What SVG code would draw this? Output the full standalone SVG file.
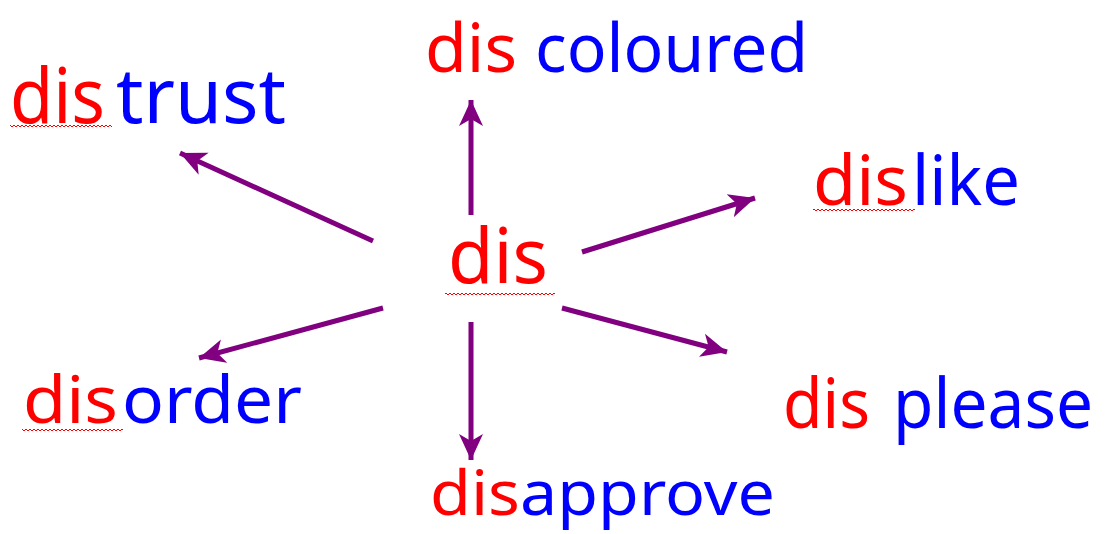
<svg xmlns="http://www.w3.org/2000/svg" width="1107" height="534" viewBox="0 0 1107 534">
  <style>
    .r { fill: #ff0000; font-family: "Noto Sans", "DejaVu Sans", sans-serif; }
    .b { fill: #0000ff; font-family: "Noto Sans", "DejaVu Sans", sans-serif; }
    .conn { stroke: #800080; stroke-width: 5; fill: none; marker-end: url(#ah); }
    .wave { fill: url(#wave); }
  </style>
  <defs>
    <marker id="ah" markerUnits="userSpaceOnUse" markerWidth="28" markerHeight="26" viewBox="0 0 28 26" refX="26" refY="13" orient="auto">
      <path d="M0,1 L26,13 L0,25 L7,13 Z" fill="#800080"/>
    </marker>
    <pattern id="wave" width="4" height="4" patternUnits="userSpaceOnUse">
      <path d="M0,3 L2,1 L4,3" stroke="#ff0000" stroke-width="1" fill="none"/>
    </pattern>
  </defs>

  <g id="connectors">
    <line class="conn" x1="373" y1="241" x2="180" y2="153"/>
    <line class="conn" x1="471" y1="215" x2="471" y2="100"/>
    <line class="conn" x1="582" y1="252" x2="755" y2="198"/>
    <line class="conn" x1="383" y1="308" x2="199" y2="358"/>
    <line class="conn" x1="562" y1="308" x2="727" y2="352"/>
    <line class="conn" x1="471" y1="322" x2="471" y2="460"/>
  </g>

  <g id="node-center">
    <text class="r" x="448" y="283" font-size="76" textLength="100" lengthAdjust="spacingAndGlyphs">dis</text>
    <rect class="wave" x="445" y="292" width="110" height="4"/>
  </g>

  <g id="node-distrust">
    <text class="r" x="10" y="123" font-size="76" textLength="95" lengthAdjust="spacingAndGlyphs">dis</text>
    <text class="b" x="116" y="123" font-size="76" textLength="170" lengthAdjust="spacingAndGlyphs">trust</text>
    <rect class="wave" x="10" y="124" width="102" height="4"/>
  </g>

  <g id="node-discoloured">
    <text class="r" x="425" y="72" font-size="67" textLength="92" lengthAdjust="spacingAndGlyphs">dis</text>
    <text class="b" x="535" y="72" font-size="67" textLength="273" lengthAdjust="spacingAndGlyphs">coloured</text>
  </g>

  <g id="node-dislike">
    <text class="r" x="813" y="205" font-size="70" textLength="95" lengthAdjust="spacingAndGlyphs">dis</text>
    <text class="b" x="912" y="205" font-size="70" textLength="108" lengthAdjust="spacingAndGlyphs">like</text>
    <rect class="wave" x="813" y="208" width="102" height="4"/>
  </g>

  <g id="node-disorder">
    <text class="r" x="23" y="423" font-size="66" textLength="95" lengthAdjust="spacingAndGlyphs">dis</text>
    <text class="b" x="122" y="423" font-size="66" textLength="180" lengthAdjust="spacingAndGlyphs">order</text>
    <rect class="wave" x="22" y="428" width="101" height="4"/>
  </g>

  <g id="node-displease">
    <text class="r" x="783" y="428" font-size="70" textLength="87" lengthAdjust="spacingAndGlyphs">dis</text>
    <text class="b" x="893" y="428" font-size="70" textLength="200" lengthAdjust="spacingAndGlyphs">please</text>
  </g>

  <g id="node-disapprove">
    <text class="r" x="430" y="515" font-size="62" textLength="90" lengthAdjust="spacingAndGlyphs">dis</text>
    <text class="b" x="520" y="515" font-size="62" textLength="255" lengthAdjust="spacingAndGlyphs">approve</text>
  </g>
</svg>
